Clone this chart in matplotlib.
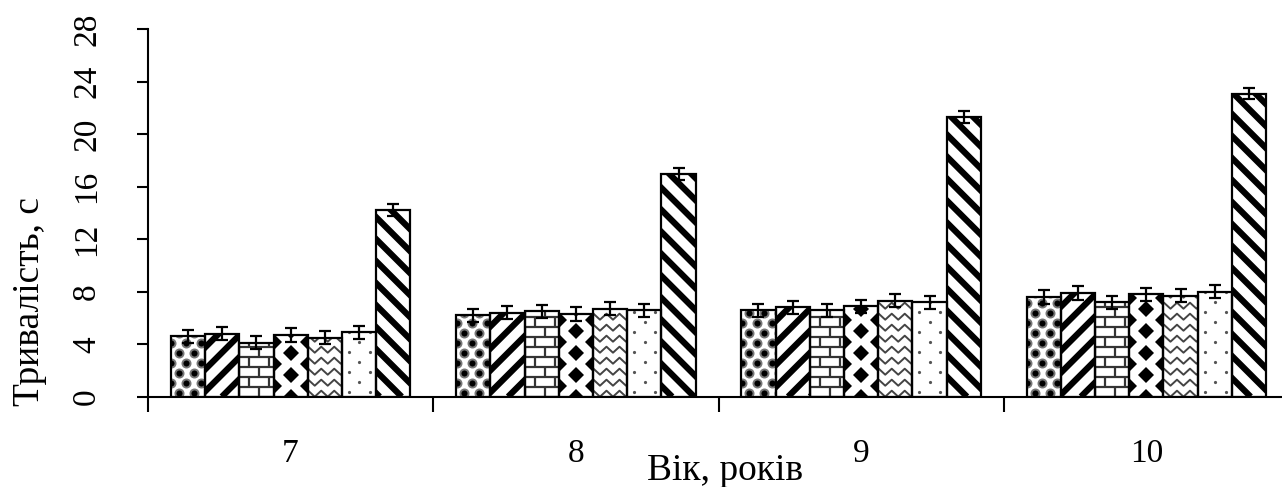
import numpy as np
import matplotlib
matplotlib.use("Agg")
import matplotlib.pyplot as plt
from matplotlib.collections import LineCollection

plt.rcParams['font.family'] = ['Liberation Serif', 'DejaVu Serif']

# Data
ages = ['7', '8', '9', '10']
values = [
    [4.6, 6.2, 6.6, 7.6],
    [4.8, 6.4, 6.8, 7.9],
    [4.1, 6.5, 6.6, 7.2],
    [4.7, 6.3, 6.9, 7.8],
    [4.5, 6.7, 7.3, 7.7],
    [4.9, 6.6, 7.2, 8.0],
    [14.2, 17.0, 21.3, 23.1],
]
errors = [
    [0.5, 0.5, 0.5, 0.5],
    [0.5, 0.5, 0.5, 0.5],
    [0.5, 0.5, 0.5, 0.5],
    [0.5, 0.5, 0.5, 0.5],
    [0.5, 0.5, 0.5, 0.5],
    [0.5, 0.5, 0.5, 0.5],
    [0.45, 0.45, 0.45, 0.45],
]
patterns = ['circles', 'fwd', 'bricks', 'diamonds', 'waves', 'dots', 'back']
y_ticks = [0, 4, 8, 12, 16, 20, 24, 28]

W_PX, H_PX = 1282, 487
fig = plt.figure(figsize=(W_PX / 100, H_PX / 100), dpi=100)
ax_l, ax_r, ax_t, ax_b = 148, 1289, 29.3, 396.7
ax = fig.add_axes([ax_l / W_PX, 1 - ax_b / H_PX, (ax_r - ax_l) / W_PX, (ax_b - ax_t) / H_PX])
ax.set_xlim(-0.5, len(ages) - 0.5)
ax.set_ylim(0, 28)

# data units per pixel
sx = len(ages) / (ax_r - ax_l)
sy = 28 / (ax_b - ax_t)


def add_lines(bar, segs_px, lw, color):
    x0, y0 = bar.get_x(), bar.get_y()
    segs = [[(x0 + a * sx, y0 + b * sy) for a, b in s] for s in segs_px]
    lc = LineCollection(segs, colors=color, linewidths=lw, zorder=2.5)
    ax.add_collection(lc)
    lc.set_clip_path(bar)


def add_marks(bar, pts_px, **kw):
    x0, y0 = bar.get_x(), bar.get_y()
    xs = [x0 + a * sx for a, b in pts_px]
    ys = [y0 + b * sy for a, b in pts_px]
    ln, = ax.plot(xs, ys, ls='none', zorder=2.5, **kw)
    ln.set_clip_path(bar)


def fill_pattern(bar, kind):
    wp = bar.get_width() / sx
    hp = bar.get_height() / sy
    if kind in ('fwd', 'back'):
        step = 22
        L = wp + hp + 40
        segs = []
        for c in np.arange(-L, L, step):
            if kind == 'fwd':
                segs.append([(c, 0), (c + L, L)])
            else:
                segs.append([(c, 0), (c - L, L)])
        add_lines(bar, segs, 4.5, 'black')
    elif kind == 'bricks':
        segs = []
        for k, yy in enumerate(np.arange(0, hp + 10, 10)):
            segs.append([(-5, yy), (wp + 5, yy)])
            off = 0 if k % 2 == 0 else 10
            for xx in np.arange(off, wp + 20, 20):
                segs.append([(xx, yy), (xx, yy + 10)])
        add_lines(bar, segs, 1.6, '#333333')
    elif kind == 'waves':
        segs = []
        for yy in np.arange(3, hp + 11, 11):
            xs = np.arange(-6, wp + 12, 6.5)
            pts = [(xv, yy + (3 if i % 2 else -3)) for i, xv in enumerate(xs)]
            segs.append(pts)
        add_lines(bar, segs, 1.4, '#444444')
    elif kind == 'circles':
        pts = []
        for k, yy in enumerate(np.arange(4, hp + 10, 10)):
            off = 8 if k % 2 == 0 else 0.5
            for xx in np.arange(off, wp + 8, 15):
                pts.append((xx, yy))
        add_marks(bar, pts, marker='o', ms=5.8, mfc='black', mec='#777777', mew=1.4)
    elif kind == 'diamonds':
        pts = []
        for k, yy in enumerate(np.arange(0, hp + 22, 11)):
            xs = [wp / 2] if k % 2 == 0 else [0, wp]
            for xx in xs:
                pts.append((xx, yy))
        add_marks(bar, pts, marker='D', ms=8.5, mfc='black', mec='black', mew=0)
    elif kind == 'dots':
        pts = []
        for k, yy in enumerate(np.arange(5, hp + 10, 10)):
            off = 7 if k % 2 == 0 else 17.5
            for xx in np.arange(off, wp + 5, 21):
                pts.append((xx, yy))
        add_marks(bar, pts, marker='o', ms=2.3, mfc='#555555', mec='#555555', mew=0)


n = len(values)
bw = 0.12
x = np.arange(len(ages))
for i in range(n):
    pos = x + (i - (n - 1) / 2) * bw
    bars = ax.bar(pos, values[i], bw, color='white', edgecolor='none', zorder=2)
    for b in bars:
        fill_pattern(b, patterns[i])
    ax.bar(pos, values[i], bw, fill=False, edgecolor='black', linewidth=1.6, zorder=3)
    ax.errorbar(pos, values[i], yerr=errors[i], fmt='none', ecolor='black',
                elinewidth=1.6, capsize=4.5, capthick=1.6, zorder=4)

# axes styling
for s in ['top', 'right']:
    ax.spines[s].set_visible(False)
ax.spines['left'].set_linewidth(1.5)
ax.spines['bottom'].set_linewidth(1.5)

ax.set_yticks(y_ticks)
ax.set_yticklabels([str(t) for t in y_ticks], rotation=90, va='center', fontsize=24)
ax.tick_params(axis='y', direction='out', length=8, width=1.5, pad=25)

ax.set_xticks(x)
ax.set_xticklabels(ages, fontsize=24)
ax.set_xticks(np.arange(-0.5, len(ages)), minor=True)
ax.tick_params(axis='x', which='major', length=0, pad=30)
ax.tick_params(axis='x', which='minor', direction='out', length=11, width=1.5)

fig.text(30 / W_PX, 1 - 301 / H_PX, 'Тривалість, с', rotation=90,
         ha='center', va='center', fontsize=27)
fig.text(725 / W_PX, 1 - 480 / H_PX, 'Вік, років', ha='center', va='baseline', fontsize=27)

fig.savefig('out.png', dpi=100)
